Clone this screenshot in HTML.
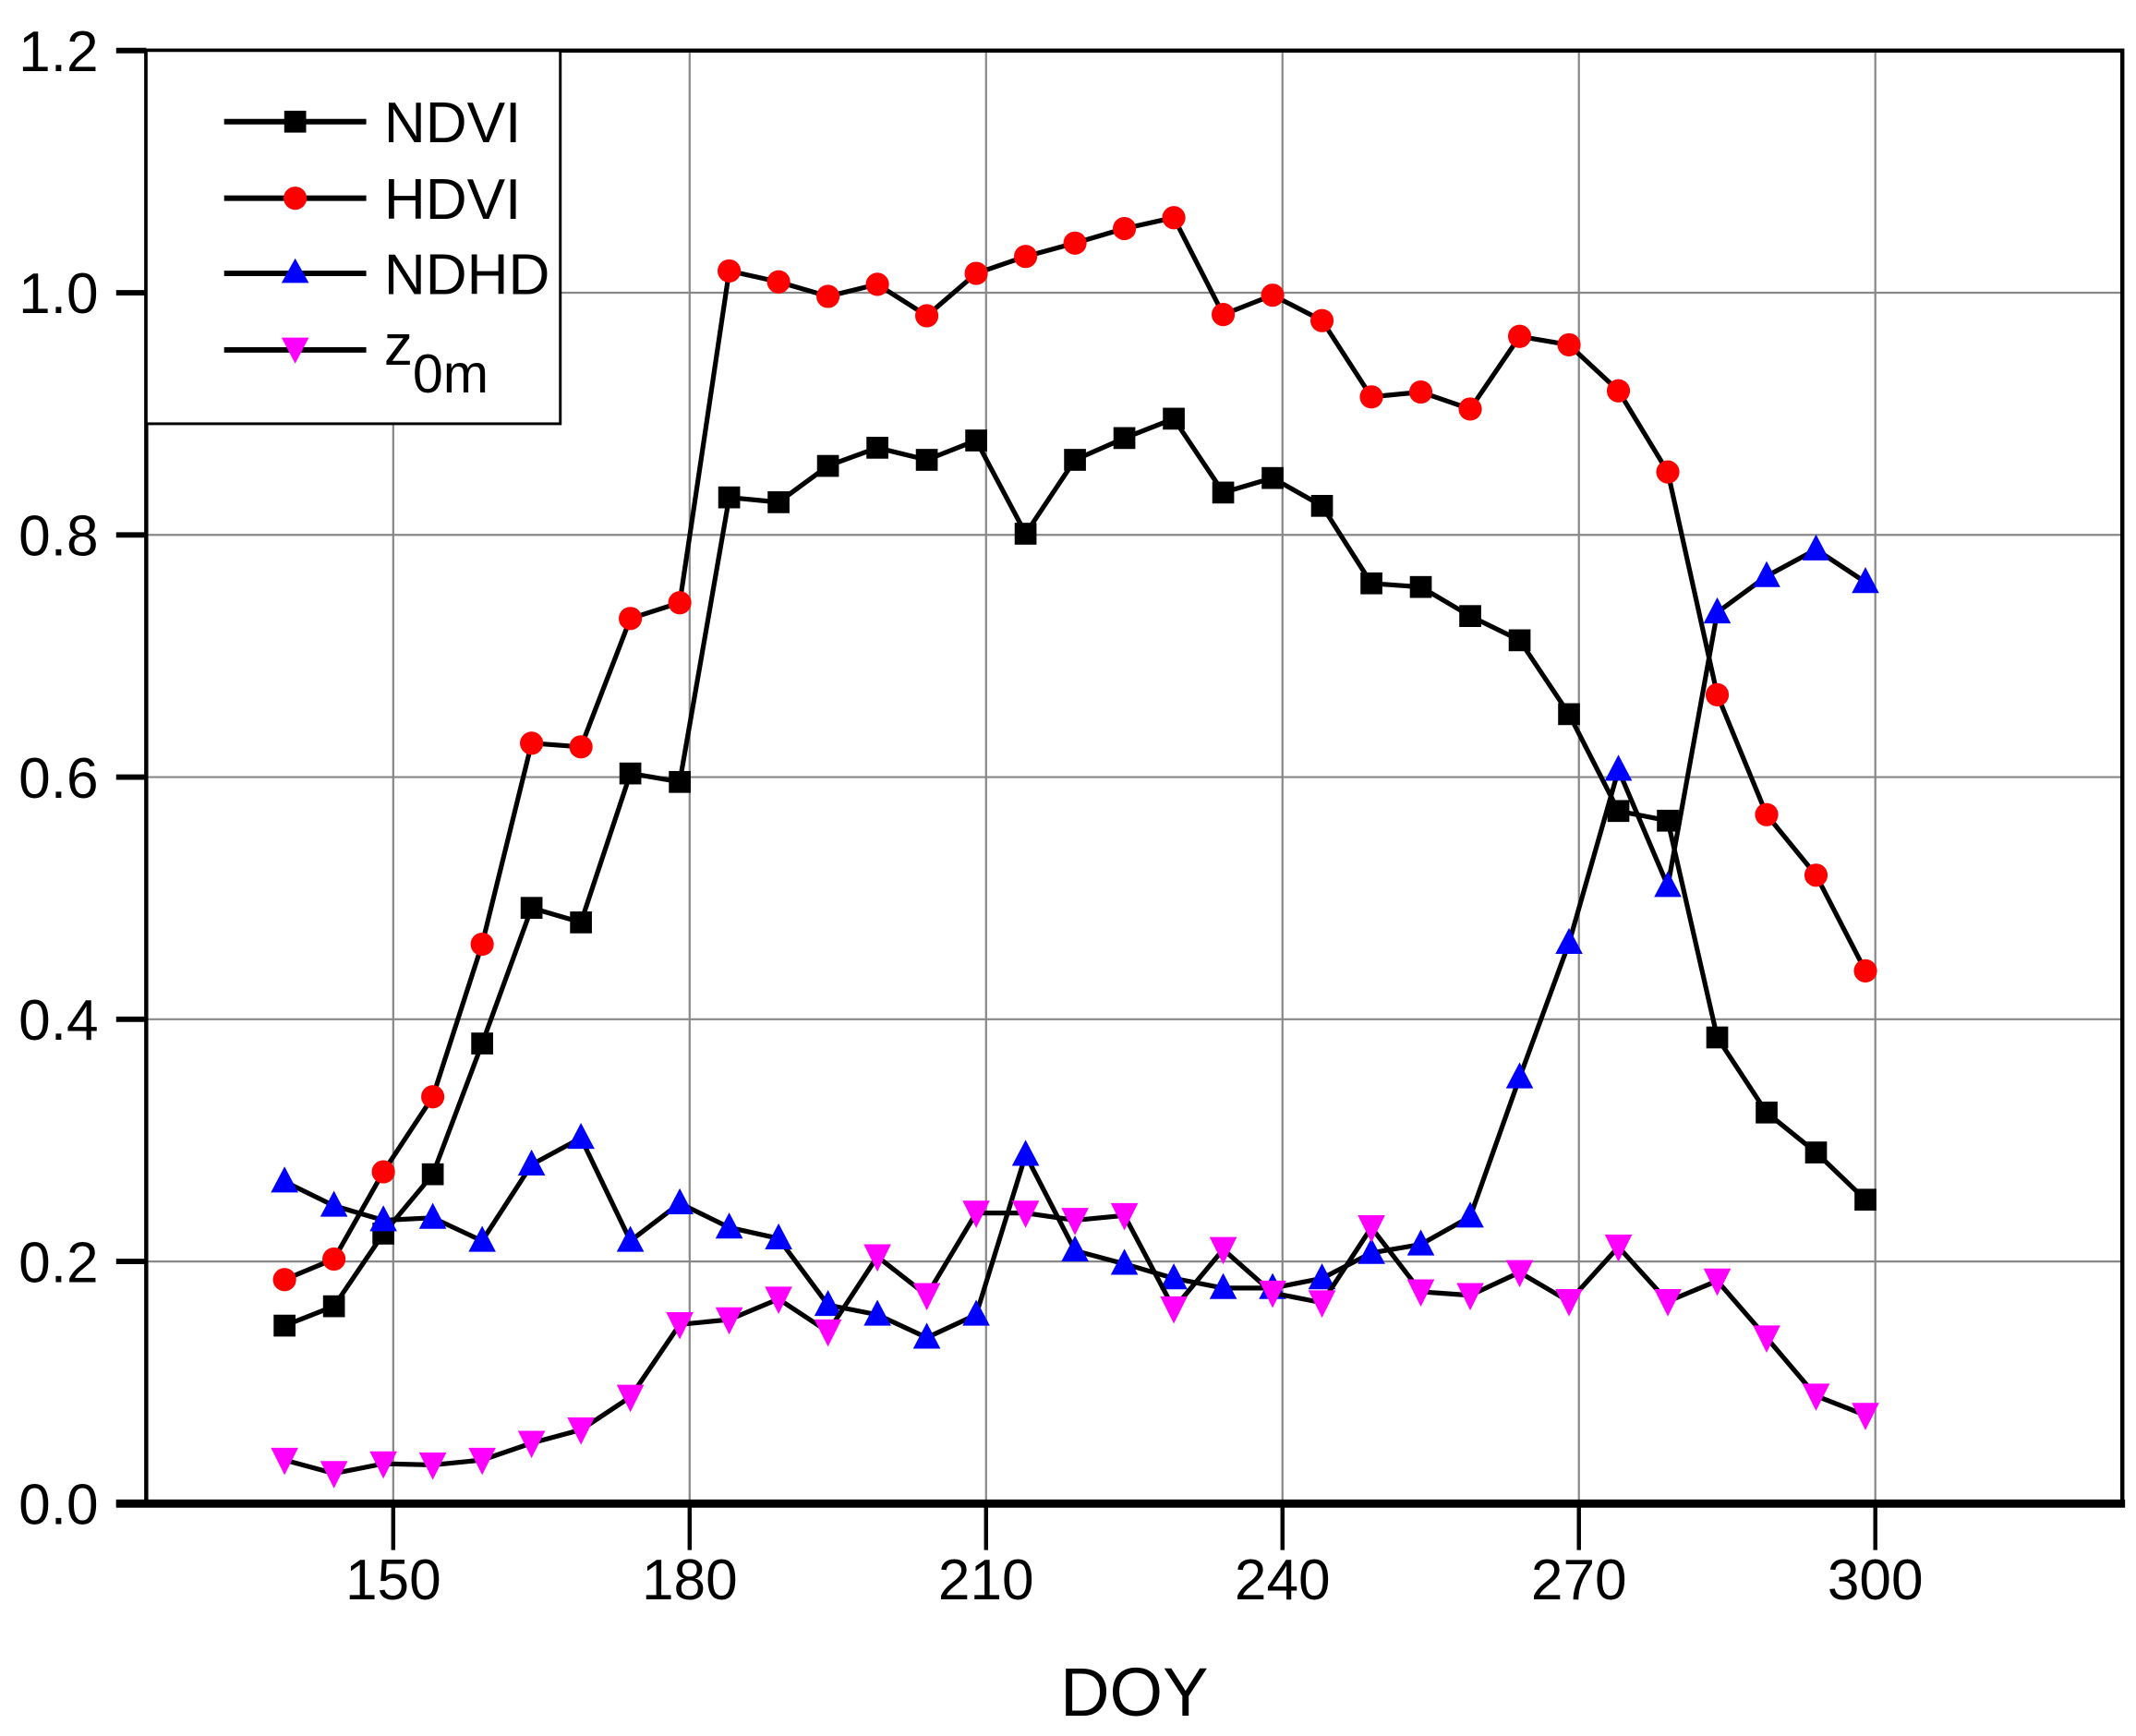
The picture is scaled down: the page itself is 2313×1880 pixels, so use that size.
<!DOCTYPE html>
<html><head><meta charset="utf-8"><style>
html,body{margin:0;padding:0;background:#fff;}
svg{display:block;font-family:"Liberation Sans",Arial,sans-serif;}
</style></head><body>
<svg id="chart" width="2313" height="1880" viewBox="0 0 1563 1270" preserveAspectRatio="none" xmlns="http://www.w3.org/2000/svg">
<rect x="0" y="0" width="1563" height="1270" fill="#fff"/>
<g id="grid"></g>
<g id="series"></g>
<g id="axes"></g>
<text x="830" y="1255" font-size="50" text-anchor="middle">DOY</text>
<g id="legend">
<rect x="107" y="37" width="303" height="273" fill="#fff" stroke="#000" stroke-width="2"/>
<g><line x1="164" y1="89" x2="268" y2="89" stroke="#000" stroke-width="4"/><rect x="208" y="81" width="16" height="16" fill="#000"/><text x="281" y="104" font-size="42">NDVI</text></g>
<g><line x1="164" y1="145" x2="268" y2="145" stroke="#000" stroke-width="4"/><ellipse cx="216" cy="145" rx="8.5" ry="8.5" fill="#f00"/><text x="281" y="160" font-size="42">HDVI</text></g>
<g><line x1="164" y1="200" x2="268" y2="200" stroke="#000" stroke-width="4"/><polygon points="216,189 206,207 226,207" fill="#00f"/><text x="281" y="215" font-size="42">NDHD</text></g>
<g><line x1="164" y1="256" x2="268" y2="256" stroke="#000" stroke-width="4"/><polygon points="206,247 226,247 216,266" fill="#f0f"/><text x="281" y="267" font-size="42">z<tspan font-size="40" dy="20">0m</tspan></text></g>
</g>
</svg>
<script>
const doy = [139,144,149,154,159,164,169,174,179,184,189,194,199,204,209,214,219,224,229,234,239,244,249,254,259,264,269,274,279,284,289,294,299];
const ndvi = [0.147,0.163,0.223,0.272,0.380,0.492,0.480,0.603,0.596,0.831,0.827,0.857,0.872,0.862,0.878,0.801,0.862,0.880,0.896,0.835,0.847,0.824,0.760,0.757,0.733,0.713,0.652,0.572,0.564,0.385,0.323,0.290,0.251];
const hdvi = [0.185,0.202,0.274,0.336,0.462,0.628,0.625,0.731,0.744,1.018,1.009,0.997,1.007,0.981,1.016,1.030,1.041,1.053,1.062,0.982,0.998,0.977,0.914,0.918,0.904,0.964,0.957,0.919,0.852,0.668,0.569,0.519,0.440];
const ndhd = [0.266,0.246,0.234,0.236,0.217,0.280,0.302,0.217,0.248,0.228,0.219,0.164,0.156,0.137,0.156,0.288,0.209,0.198,0.186,0.178,0.178,0.186,0.207,0.214,0.237,0.352,0.463,0.606,0.510,0.736,0.766,0.788,0.761];
const z0m = [0.036,0.025,0.033,0.032,0.036,0.050,0.061,0.088,0.148,0.152,0.169,0.142,0.204,0.172,0.240,0.240,0.234,0.238,0.161,0.210,0.174,0.166,0.228,0.175,0.172,0.191,0.167,0.212,0.167,0.184,0.137,0.089,0.073];
const xTicks = [150,180,210,240,270,300];
const yTicks = [0.0,0.2,0.4,0.6,0.8,1.0,1.2];

const L=107,R=1553,T=37,B=1100;
const xMin=125,xMax=325,yMin=0,yMax=1.2;
function xs(v){return L+(v-xMin)/(xMax-xMin)*(R-L);}
function ys(v){return B-(v-yMin)/(yMax-yMin)*(B-T);}
const NS="http://www.w3.org/2000/svg";
function mk(tag,attrs,parent){const e=document.createElementNS(NS,tag);for(const k in attrs)e.setAttribute(k,attrs[k]);parent.appendChild(e);return e;}
const grid=document.getElementById('grid'),axes=document.getElementById('axes'),series=document.getElementById('series');

xTicks.forEach(t=>{
  const g=mk('line',{x1:xs(t),x2:xs(t),y1:T,y2:B,stroke:'#888','stroke-width':1.5},grid);
  
  
  const tk=mk('line',{x1:xs(t),x2:xs(t),y1:B,y2:B+34,stroke:'#000','stroke-width':3},axes);
  
  
  const lb=mk('text',{x:xs(t),y:1170,'font-size':42,'text-anchor':'middle'},axes);
  lb.textContent=String(t);
  
  
});
yTicks.forEach(t=>{
  if(t>0&&t<1.2){
    const g=mk('line',{x1:L,x2:R,y1:ys(t),y2:ys(t),stroke:'#888','stroke-width':1.5},grid);
    
    
  }
  const tk=mk('line',{x1:L-22,x2:L,y1:ys(t),y2:ys(t),stroke:'#000','stroke-width':4},axes);
  
  
  const lb=mk('text',{x:72,y:ys(t)+15,'font-size':42,'text-anchor':'end'},axes);
  lb.textContent=t.toFixed(1);
  
  
});
const frame=mk('rect',{x:L,y:T,width:R-L,height:B-T,fill:'none',stroke:'#000','stroke-width':3},axes);


const xaxis=mk('line',{x1:L-22,x2:R+2,y1:B,y2:B,stroke:'#000','stroke-width':6},axes);



function drawSeries(name,vals,marker,color){
  const g=mk('g',{},series);
  
  
  const pts=vals.map((v,i)=>xs(doy[i]).toFixed(1)+','+ys(v).toFixed(1)).join(' ');
  const pl=mk('polyline',{points:pts,fill:'none',stroke:'#000','stroke-width':3.5,'stroke-linejoin':'round'},g);
  
  
  vals.forEach((v,i)=>{
    const x=xs(doy[i]),y=ys(v);let m;
    if(marker==='square')m=mk('rect',{x:x-8,y:y-8,width:16,height:16,fill:color},g);
    else if(marker==='circle')m=mk('circle',{cx:x,cy:y,r:8.5,fill:color},g);
    else if(marker==='up')m=mk('polygon',{points:`${x},${y-11} ${x-10},${y+8} ${x+10},${y+8}`,fill:color},g);
    else m=mk('polygon',{points:`${x-10},${y-9} ${x+10},${y-9} ${x},${y+11}`,fill:color},g);
    
    
  });
}
drawSeries('ndvi',ndvi,'square','#000');
drawSeries('hdvi',hdvi,'circle','#f00');
drawSeries('ndhd',ndhd,'up','#00f');
drawSeries('z0m',z0m,'down','#f0f');
</script>
</body></html>
